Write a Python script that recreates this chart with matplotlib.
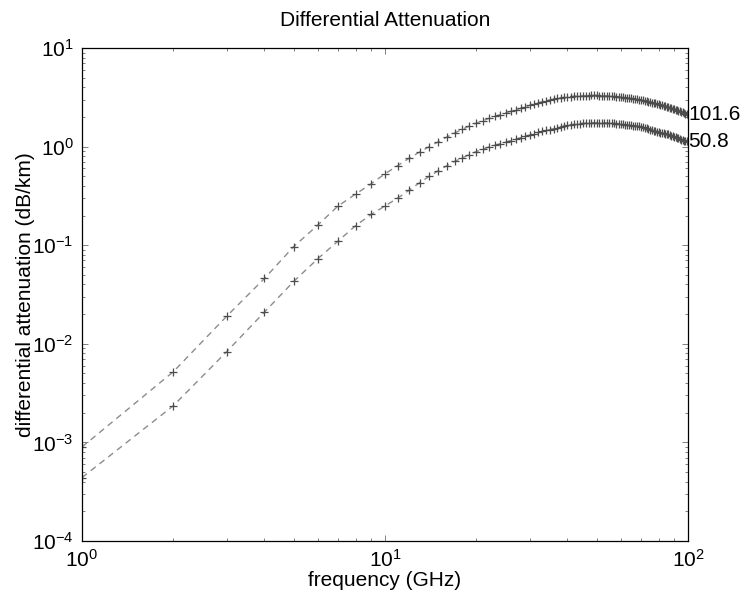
import matplotlib
matplotlib.use("Agg")
import matplotlib.pyplot as plt
from matplotlib import ticker

# 2 curves of differential attenuation at 1..100 GHz
FREQ = list(range(1, 101))

ATT_101 = [0.0009, 0.0052, 0.019, 0.046, 0.097, 0.16, 0.25, 0.33, 0.42, 0.53,
           0.64, 0.76, 0.88, 1.0, 1.12, 1.25, 1.38, 1.5, 1.62, 1.73,
           1.83, 1.93, 2.02, 2.11, 2.2, 2.28, 2.36, 2.45, 2.53, 2.62,
           2.7, 2.78, 2.85, 2.92, 2.98, 3.03, 3.08, 3.12, 3.16, 3.2,
           3.22, 3.24, 3.26, 3.27, 3.28, 3.29, 3.29, 3.3, 3.3, 3.3,
           3.29, 3.29, 3.28, 3.27, 3.26, 3.25, 3.24, 3.22, 3.2, 3.18,
           3.16, 3.14, 3.12, 3.1, 3.08, 3.06, 3.04, 3.02, 3.0, 2.98,
           2.95, 2.92, 2.89, 2.86, 2.83, 2.8, 2.77, 2.74, 2.71, 2.68,
           2.65, 2.62, 2.59, 2.57, 2.55, 2.52, 2.49, 2.46, 2.43, 2.4,
           2.37, 2.34, 2.31, 2.28, 2.25, 2.22, 2.19, 2.16, 2.13, 2.11]

ATT_50 = [0.00044, 0.00235, 0.0083, 0.021, 0.043, 0.073, 0.11, 0.158, 0.205, 0.25,
          0.30, 0.36, 0.43, 0.5, 0.57, 0.64, 0.71, 0.77, 0.83, 0.89,
          0.94, 0.99, 1.03, 1.07, 1.11, 1.15, 1.19, 1.23, 1.27, 1.31,
          1.35, 1.39, 1.43, 1.46, 1.49, 1.52, 1.55, 1.58, 1.61, 1.64,
          1.66, 1.68, 1.7, 1.71, 1.72, 1.73, 1.74, 1.75, 1.75, 1.75,
          1.75, 1.75, 1.74, 1.74, 1.73, 1.73, 1.72, 1.71, 1.7, 1.69,
          1.68, 1.67, 1.66, 1.65, 1.64, 1.63, 1.62, 1.61, 1.6, 1.59,
          1.57, 1.55, 1.53, 1.51, 1.49, 1.47, 1.45, 1.43, 1.41, 1.39,
          1.38, 1.37, 1.36, 1.355, 1.35, 1.33, 1.31, 1.29, 1.27, 1.25,
          1.24, 1.22, 1.21, 1.19, 1.18, 1.17, 1.15, 1.14, 1.13, 1.12]

SERIES = [(ATT_101, "101.6"), (ATT_50, "50.8")]

plt.rcParams['font.family'] = ['Liberation Sans', 'DejaVu Sans']
plt.rcParams['mathtext.fontset'] = 'custom'
plt.rcParams['mathtext.rm'] = 'Liberation Sans'
plt.rcParams['mathtext.it'] = 'Liberation Sans:italic'

fig = plt.figure(figsize=(7.49, 5.94), dpi=100)
ax = fig.add_axes([0.1095, 0.0892, 0.8091, 0.8300])

for ys, name in SERIES:
    ax.plot(FREQ, ys, color='0.55', linestyle=(0, (4.5, 3.5)), linewidth=1.0)
    ax.plot(FREQ, ys, linestyle='none', marker='+', markersize=6,
            markeredgewidth=0.9, color='0.3')
    ax.text(FREQ[-1], ys[-1], name, fontsize=15, ha='left', va='center',
            clip_on=False)

ax.set_xscale('log')
ax.set_yscale('log')
ax.set_xlim(1, 100)
ax.set_ylim(1e-4, 10)
ax.xaxis.set_major_locator(ticker.LogLocator(base=10, numticks=10))
ax.yaxis.set_major_locator(ticker.LogLocator(base=10, numticks=10))

ax.tick_params(which='both', direction='in', top=True, right=True,
               labelsize=15, width=0.5, color='0.3')
ax.tick_params(which='major', length=4, pad=6)
ax.tick_params(which='minor', length=2)
for s in ax.spines.values():
    s.set_linewidth(0.9)

ax.set_xlabel("frequency (GHz)", fontsize=15, labelpad=0)
ax.set_ylabel("differential attenuation (dB/km)", fontsize=15, labelpad=-2)
ax.set_title("Differential Attenuation", fontsize=15, pad=16)

plt.savefig("out.png", dpi=100)
plt.close('all')
